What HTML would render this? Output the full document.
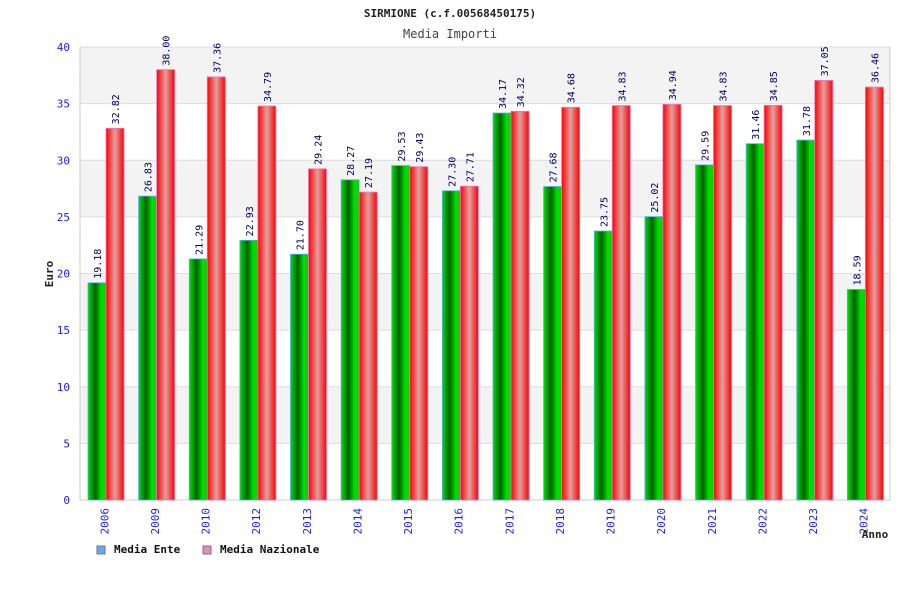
<!DOCTYPE html>
<html><head><meta charset="utf-8"><style>
body{margin:0;background:#fff;}
svg{display:block;font-family:"DejaVu Sans Mono","Liberation Mono",monospace;}
</style></head><body>
<svg id="chart" width="900" height="600">
<defs>
<linearGradient id="gG" x1="0" x2="1" y1="0" y2="0">
<stop offset="0" stop-color="#00e000"/><stop offset="0.4" stop-color="#006000"/><stop offset="0.75" stop-color="#00e000"/><stop offset="1" stop-color="#00d000"/></linearGradient>
<linearGradient id="gR" x1="0" x2="1" y1="0" y2="0">
<stop offset="0" stop-color="#ff0000"/><stop offset="0.5" stop-color="#e0a0a0"/><stop offset="1" stop-color="#ff0000"/></linearGradient>
</defs>
<text x="450" y="17" text-anchor="middle" font-size="11" font-weight="bold" fill="#222">SIRMIONE (c.f.00568450175)</text>
<text x="450" y="38" text-anchor="middle" font-size="12" fill="#444">Media Importi</text>
<text transform="translate(53,274) rotate(-90)" text-anchor="middle" font-size="11" font-weight="bold" fill="#222">Euro</text>
<g id="grid"></g><g id="bars"></g><g id="labels"></g>
<text x="875" y="538" text-anchor="middle" font-size="11" font-weight="bold" fill="#222">Anno</text>
<g>
<rect x="97" y="546" width="8" height="8" fill="#66aaee" stroke="#777"/>
<text x="114" y="553" font-size="11" font-weight="bold" fill="#111">Media Ente</text>
<rect x="203" y="546" width="8" height="8" fill="#ee88bb" stroke="#777"/>
<text x="220" y="553" font-size="11" font-weight="bold" fill="#111">Media Nazionale</text>
</g>
</svg>
<script>
const categories=["2006","2009","2010","2012","2013","2014","2015","2016","2017","2018","2019","2020","2021","2022","2023","2024"];
const enteValues=[19.18,26.83,21.29,22.93,21.70,28.27,29.53,27.30,34.17,27.68,23.75,25.02,29.59,31.46,31.78,18.59];
const nazValues=[32.82,38.00,37.36,34.79,29.24,27.19,29.43,27.71,34.32,34.68,34.83,34.94,34.83,34.85,37.05,36.46];
const yTicks=[0,5,10,15,20,25,30,35,40];
const NS="http://www.w3.org/2000/svg";
const L=80,R=890,T=47,B=500,yMax=40;
const y=v=>B-(v/yMax)*(B-T);
const slot=(R-L)/categories.length;
const x=i=>L+i*slot;
function mk(tag,attrs,parent){const e=document.createElementNS(NS,tag);for(const k in attrs)e.setAttribute(k,attrs[k]);parent.appendChild(e);return e;}
const grid=document.getElementById('grid'),bars=document.getElementById('bars'),labels=document.getElementById('labels');
for(let i=0;i<yTicks.length-1;i++){
  const band=mk('rect',{x:L,y:y(yTicks[i+1]),width:R-L,height:y(yTicks[i])-y(yTicks[i+1]),fill:(yTicks.length-2-i)%2===0?'#f3f3f3':'#fff'},grid);
  
  
}
yTicks.forEach(t=>{
  const ln=mk('line',{x1:L,x2:R,y1:y(t),y2:y(t),stroke:'#ddd'},grid);
  
  
  const tx=mk('text',{x:L-10,y:y(t)+4,'text-anchor':'end','font-size':'11',fill:'#1a1aff'},grid);
  tx.textContent=t;
  
  
});
const ax=mk('path',{d:`M${L} ${T}V${B}H${R}V${T}`,fill:'none',stroke:'#ccc'},grid);


categories.forEach((c,i)=>{
  const x0=x(i)+8,w=18;
  const g=mk('rect',{x:x0,y:y(enteValues[i]),width:w,height:B-y(enteValues[i]),fill:'url(#gG)',stroke:'#55aaee','stroke-width':'0.8'},bars);
  
  
  const r=mk('rect',{x:x0+w,y:y(nazValues[i]),width:w,height:B-y(nazValues[i]),fill:'url(#gR)',stroke:'#ee77bb','stroke-width':'0.8'},bars);
  
  
  [[enteValues[i],x0+w/2,'value-label-ente'],[nazValues[i],x0+w*1.5,'value-label-nazionale']].forEach(([v,cx,n])=>{
    const t=mk('text',{transform:`translate(${cx+4},${y(v)-4}) rotate(-90)`,'font-size':'10',fill:'#000066'},labels);
    t.textContent=v.toFixed(2);
    
    
  });
  const gx=mk('g',{transform:`translate(${x(i)+slot/2+3},${B+8}) rotate(-90)`},labels);
  const xl=mk('text',{x:0,y:0,'text-anchor':'end','font-size':'11',fill:'#1a1aff'},gx);
  xl.textContent=c;
  
  
});
</script>
</body></html>
